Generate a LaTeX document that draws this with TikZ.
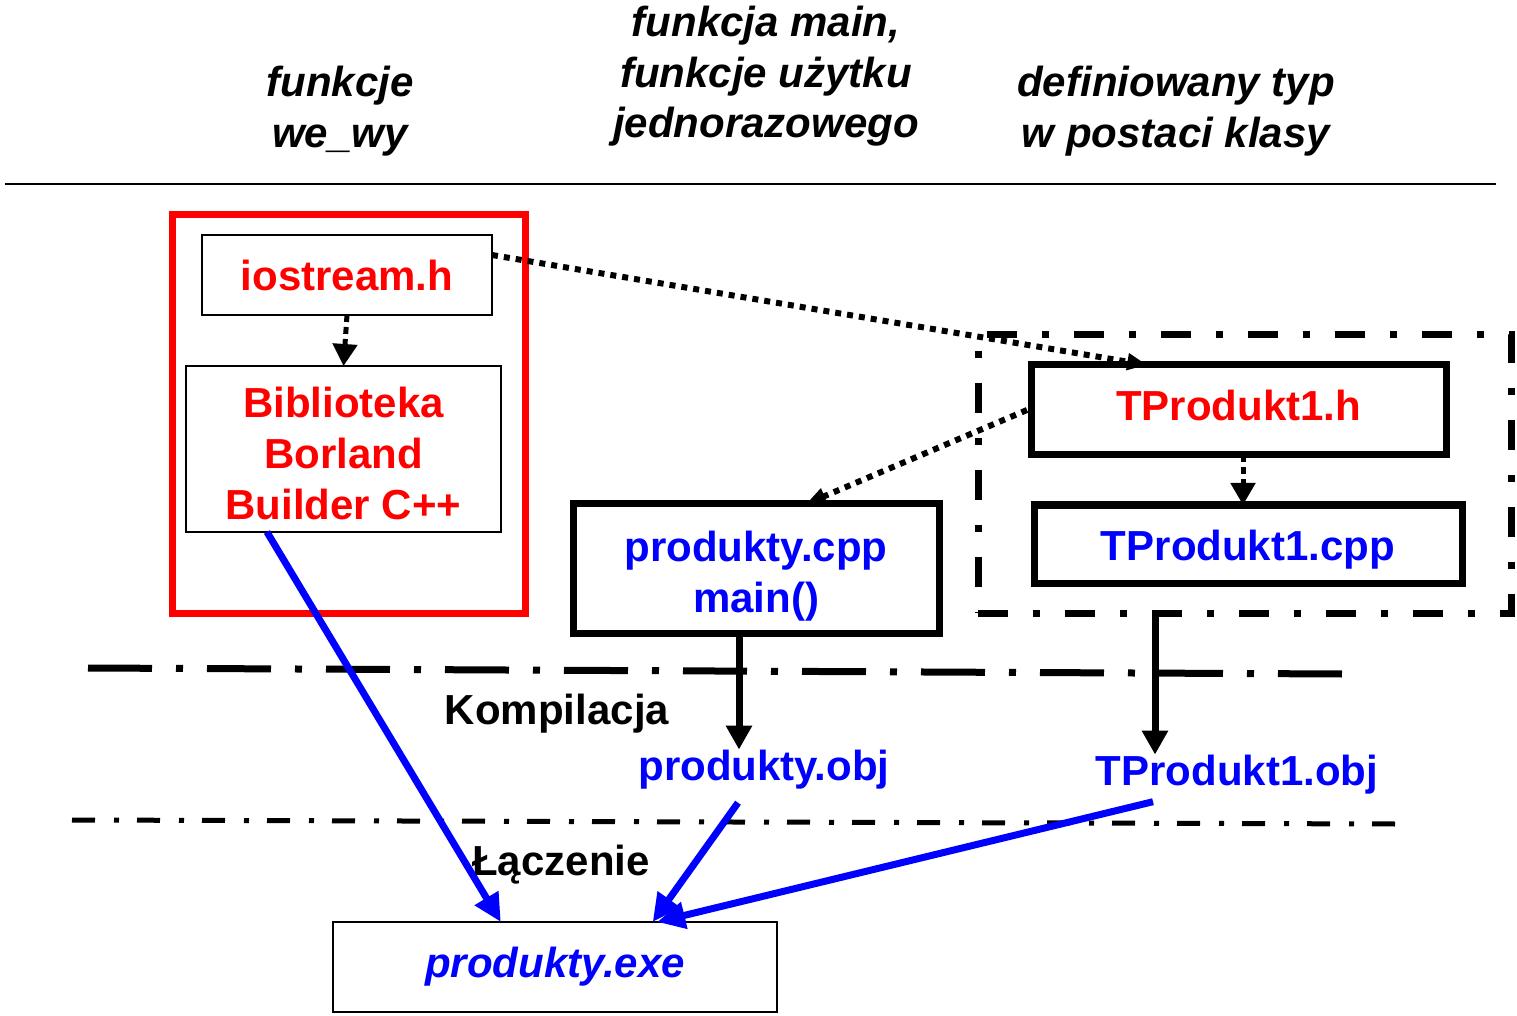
\documentclass[tikz,border=0pt]{standalone}
\usepackage{fontspec}
\setmainfont{Liberation Sans}
\usetikzlibrary{arrows.meta,calc}
\definecolor{rd}{RGB}{255,0,0}
\definecolor{bl}{RGB}{0,0,255}
\begin{document}
\begin{tikzpicture}[x=0.5pt,y=-0.5pt,
  every node/.style={font=\fontsize{21}{25.5}\selectfont\bfseries, inner sep=0pt, outer sep=0pt},
  hdr/.style={anchor=base, font=\fontsize{21}{25.5}\selectfont\bfseries\itshape},
  lbl/.style={anchor=base},
  thinbox/.style={draw=black, line width=1pt, align=center},
  thickbox/.style={draw=black, line width=3.5pt, align=center},
  dotline/.style={line width=3pt, dash pattern=on 3pt off 3pt, -{Triangle[length=10pt,width=8pt]}},
  dashline/.style={line width=2.5pt, dash pattern=on 3.5pt off 2.5pt, -{Triangle[length=11pt,width=12pt]}},
  blackarr/.style={line width=3.5pt, -{Triangle[length=12pt,width=12.5pt]}},
  bluearr/.style={draw=bl, line width=3.5pt, -{Triangle[length=14pt,width=13pt]}}
]
\useasboundingbox[fill=white] (0,0) rectangle (1517,1016);

% header texts
\node[hdr] (h1a) at (340,97) {funkcje};
\node[hdr] (h1b) at (340,148) {we\_wy};
\node[hdr] (h2a) at (766,37) {funkcja main,};
\node[hdr] (h2b) at (766,88) {funkcje użytku};
\node[hdr] (h2c) at (766,138) {jednorazowego};
\node[hdr] (h3a) at (1176,97) {definiowany typ};
\node[hdr] (h3b) at (1176,148) {w postaci klasy};

\draw[line width=1pt] (5,184) -- (1496,184);

% left group
\node[draw=rd, line width=3.5pt, minimum width=176.5pt, minimum height=199pt] (redbox) at (348.5,414) {};
\node[thinbox, minimum width=145pt, minimum height=40pt, text=rd] (iostream) at (347,275) {iostream.h};
\node[thinbox, minimum width=157.5pt, minimum height=83pt, text=rd] (biblio) at (343.5,449)
  {\rule{0pt}{20pt}Biblioteka\\Borland\\Builder C++};

% right group
\node[draw=black, line width=3.5pt, dash pattern=on 15pt off 12.5pt on 3.5pt off 12.5pt,
  minimum width=266.5pt, minimum height=139pt] (tbox) at (1244.5,474) {};
\node[thickbox, minimum width=207.5pt, minimum height=45pt, text=rd] (th) at (1238.5,410)
  {\rule[-5pt]{0pt}{5pt}TProdukt1.h};
\node[thickbox, minimum width=214pt, minimum height=39pt, text=bl] (tcpp) at (1248,544)
  {\rule{0pt}{20.4pt}TProdukt1.cpp};

% middle
\node[thickbox, minimum width=183pt, minimum height=64.5pt, text=bl] (pcpp) at (756,568.5)
  {\rule{0pt}{22.4pt}produkty.cpp\\main()};

% separator lines
\draw[line width=3.5pt, dash pattern=on 32pt off 12pt on 3.5pt off 12pt] (88,668) -- (1342,674);
\draw[line width=2.5pt, dash pattern=on 11.5pt off 9.5pt on 2.5pt off 9pt] (72,820) -- (1395,824);

% labels
\node[lbl] (komp) at (557,724) {Kompilacja};
\node[lbl, text=bl] (pobj) at (764,780) {produkty.obj};
\node[lbl, text=bl] (tobj) at (1237,785) {TProdukt1.obj};
\node[lbl] (lacz) at (561,875) {Łączenie};
\node[thinbox, minimum width=222pt, minimum height=45pt, text=bl, font=\fontsize{21}{25.5}\selectfont\bfseries\itshape] (exe) at (555,967) {produkty.exe};

% connectors
\draw[dashline] (iostream.south) -- (biblio.north);
\draw[dotline] ($(iostream.north east)!0.25!(iostream.south east)$) -- ($(th.north west)!0.28!(th.north east)$);
\draw[dotline] ([xshift=-2pt]th.west) -- ($(pcpp.north west)!0.6366!(pcpp.north east)$);
\draw[dashline] ([xshift=2.25pt]th.south) -- ([xshift=-2.5pt]tcpp.north);
\draw[blackarr] ([xshift=-8.5pt]pcpp.south) -- ([xshift=-12.5pt]pobj.north);
\draw[blackarr] ([xshift=-44.75pt]tbox.south) -- ([xshift=-41pt]tobj.north);
\draw[bluearr] ($(biblio.south west)!0.257!(biblio.south east)$) -- ($(exe.north west)!0.378!(exe.north east)$);
\draw[bluearr] ([xshift=-13pt,yshift=-7pt]pobj.south) -- ($(exe.north west)!0.72!(exe.north east)$);
\draw[bluearr] ([xshift=-42pt,yshift=-4pt]tobj.south) -- ($(exe.north west)!0.73!(exe.north east)$);
\end{tikzpicture}
\end{document}
